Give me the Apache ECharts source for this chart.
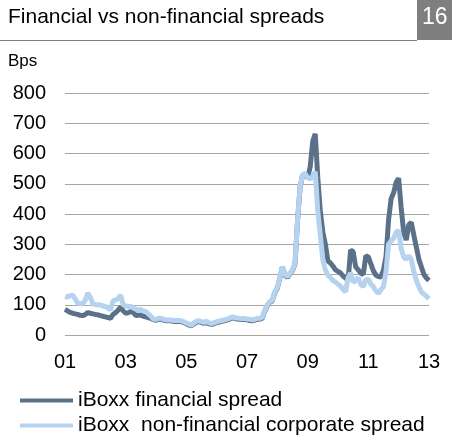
<!DOCTYPE html>
<html>
<head>
<meta charset="utf-8">
<script src="https://cdn.jsdelivr.net/npm/echarts@6/dist/echarts.min.js"></script>
<style>
  html, body { margin: 0; padding: 0; background: #fff; }
  #chart { width: 452px; height: 437px; }
</style>
</head>
<body>
<div id="chart"></div>
<script>
// monthly data, Jan 2001 - Jan 2013 (bps)
const financial = [
  85, 80, 75, 72, 70, 68, 65, 64, 68, 74,
  72, 70, 68, 67, 64, 62, 60, 58, 55, 68,
  74, 82, 92, 80, 72, 74, 77, 76, 64, 65,
  66, 62, 60, 57, 55, 50, 49, 52, 52, 49,
  47, 47, 47, 45, 45, 45, 44, 41, 37, 33,
  30, 37, 42, 44, 41, 39, 42, 37, 35, 37,
  41, 43, 45, 47, 49, 52, 57, 55, 53, 52,
  51, 52, 50, 48, 47, 49, 52, 52, 55, 78,
  97, 108, 113, 140, 155, 188, 224, 198, 190, 202,
  213, 235, 378, 488, 528, 532, 520, 556, 640, 665,
  520, 410, 340, 300, 245, 238, 228, 215, 210, 205,
  195, 188, 182, 281, 275, 225, 215, 205, 200, 262,
  258, 235, 212, 198, 193, 192, 215, 260, 380, 450,
  470, 505, 518, 420, 340, 314, 365, 372, 330, 290,
  250, 225, 200, 188, 180
];
const nonFinancial = [
  127, 125, 130, 132, 120, 105, 104, 102, 115, 139,
  125, 103, 101, 100, 99, 96, 94, 90, 83, 113,
  116, 120, 132, 100, 96, 94, 95, 90, 85, 83,
  84, 80, 77, 70, 62, 52, 52, 55, 55, 52,
  50, 50, 50, 48, 48, 48, 47, 44, 40, 36,
  32, 40, 45, 47, 44, 42, 45, 40, 38, 40,
  44, 46, 48, 50, 52, 55, 60, 58, 56, 55,
  54, 55, 53, 52, 50, 52, 55, 55, 58, 80,
  99, 110, 115, 143, 158, 190, 226, 200, 193, 204,
  215, 237, 380, 490, 530, 534, 520, 515, 525, 540,
  410, 330, 250, 215, 198, 190, 180, 175, 168, 162,
  150, 143, 190, 205, 175, 180, 190, 168, 160, 182,
  185, 168, 160, 145, 138, 150, 160, 210, 300, 310,
  320, 340, 345, 285, 258, 250, 262, 250, 210, 180,
  160, 142, 135, 128, 120
];
const seriesNames = ['iBoxx financial spread', 'iBoxx  non-financial corporate spread'];
const months = [];
for (let y = 2001; y <= 2013; y++) {
  for (let m = 1; m <= 12; m++) {
    if (months.length < financial.length) months.push(y + '-' + (m < 10 ? '0' + m : m));
  }
}

const font = '"Liberation Sans", Arial, sans-serif';
const chart = echarts.init(document.getElementById('chart'));
chart.setOption({
  animation: false,
  textStyle: { fontFamily: font, color: '#000' },
  title: {
    text: 'Financial vs non-financial spreads',
    left: 3,
    top: 2,
    textStyle: { fontSize: 21, fontWeight: 'normal', color: '#000', fontFamily: font }
  },
  graphic: [
    { type: 'rect', shape: { x: 417, y: 0, width: 35, height: 40 }, style: { fill: '#7f7f7f' } },
    { type: 'text', left: 422, top: 6, style: { text: '16', fill: '#fff', font: '23px ' + font } },
    { type: 'line', shape: { x1: 0, y1: 40.5, x2: 417, y2: 40.5 }, style: { stroke: '#808080', lineWidth: 1 } },
    { type: 'text', left: 8, top: 53, style: { text: 'Bps', fill: '#000', font: '17px ' + font } }
  ],
  grid: { left: 65, right: 23, top: 93, bottom: 102 },
  legend: {
    orient: 'vertical',
    left: 20,
    top: 390,
    padding: 0,
    itemWidth: 53,
    itemHeight: 4,
    itemGap: 4,
    icon: 'rect',
    textStyle: { fontSize: 21, color: '#000', fontFamily: font },
    data: seriesNames
  },
  xAxis: {
    type: 'category',
    data: months,
    boundaryGap: false,
    axisLine: { show: false },
    axisTick: { show: false },
    axisLabel: {
      interval: (i) => i % 24 === 0,
      formatter: (v) => v.slice(2, 4),
      fontSize: 20,
      color: '#000',
      margin: 17
    }
  },
  yAxis: {
    type: 'value',
    min: 0,
    max: 800,
    interval: 100,
    axisLine: { show: false },
    axisTick: { show: false },
    axisLabel: { fontSize: 20, color: '#000', margin: 19 },
    splitLine: { lineStyle: { color: '#a6a6a6', width: 1 } }
  },
  series: [
    {
      name: seriesNames[0],
      type: 'line',
      data: financial,
      showSymbol: false,
      lineStyle: { color: '#5a7189', width: 5 },
      itemStyle: { color: '#5a7189' }
    },
    {
      name: seriesNames[1],
      type: 'line',
      data: nonFinancial,
      showSymbol: false,
      lineStyle: { color: '#b5d2ef', width: 5 },
      itemStyle: { color: '#b5d2ef' }
    }
  ]
});
</script>
</body>
</html>
